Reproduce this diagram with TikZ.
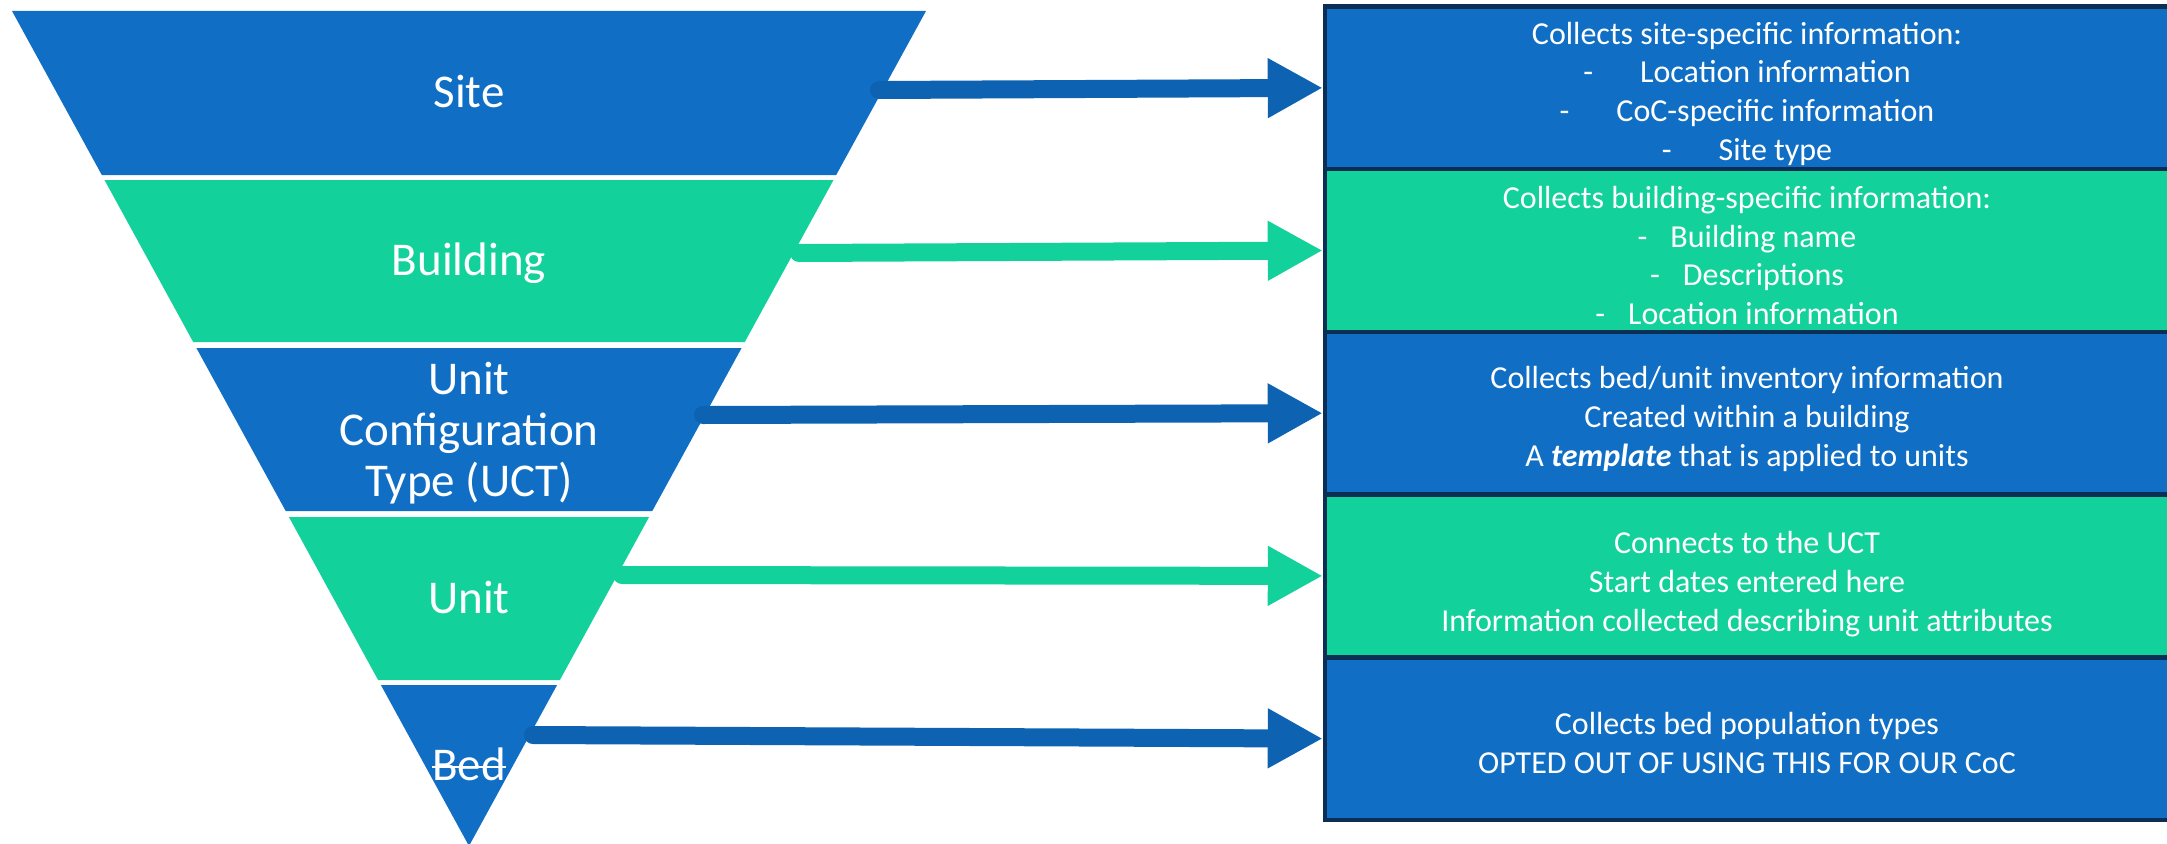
\documentclass[tikz,border=0pt]{standalone}
\usepackage{fontspec}
\setmainfont{Carlito}
\usetikzlibrary{arrows.meta}
\definecolor{fblue}{RGB}{16,111,197}
\definecolor{fgreen}{RGB}{19,209,155}
\definecolor{ablue}{RGB}{14,98,178}
\definecolor{navy}{RGB}{11,46,84}
\tikzset{
  bandlabel/.style={text=white, font=\fontsize{47}{51}\selectfont, align=center, inner sep=0pt},
  rowbox/.style={draw=navy, line width=4.5pt, minimum width=844pt, minimum height=162.7pt, inner sep=0pt},
  boxtext/.style={text=white, align=center, inner sep=0pt, font=\fontsize{32}{38.8}\selectfont},
  conn/.style={line width=18pt, line cap=round, -{Triangle[length=55pt,width=56pt]}},
}
\begin{document}
\begin{tikzpicture}[x=1pt,y=-1pt]
\useasboundingbox (0,0) rectangle (2167,843);
% funnel bands
\fill[fblue]  (12,11) -- (926,11) -- (836.2,175) -- (101.8,175) -- cycle;
\fill[fgreen] (104.5,180) -- (833.5,180) -- (744.8,342) -- (193.2,342) -- cycle;
\fill[fblue]  (196.4,348) -- (741.6,348) -- (652.3,511) -- (285.7,511) -- cycle;
\fill[fgreen] (288.9,517) -- (649.1,517) -- (559.9,680) -- (378.1,680) -- cycle;
\fill[fblue]  (380.9,685) -- (557.1,685) -- (469,846) -- cycle;
% funnel labels
\node[bandlabel, anchor=base] (lsite) at (469,107) {Site};
\node[bandlabel, anchor=base] (lbuild) at (469,275) {Building};
\node[bandlabel] (luct) at (469,433) {Unit\\Configuration\\Type (UCT)};
\node[bandlabel, anchor=base] (lunit) at (469,613) {Unit};
\node[bandlabel, anchor=base] (lbed) at (469,780) {Bed};
\draw[white, line width=2.2pt] ([yshift=13pt]lbed.base west) -- ([yshift=13pt]lbed.base east);
% right boxes
\node[rowbox, fill=fblue]  (r1) at (1747,87.85) {};
\node[rowbox, fill=fgreen] (r2) at (1747,250.5) {};
\node[rowbox, fill=fblue]  (r3) at (1747,413.2) {};
\node[rowbox, fill=fgreen] (r4) at (1747,575.9) {};
\node[rowbox, fill=fblue]  (r5) at (1747,738.6) {};
\node[boxtext] (t1) at ([yshift=-6pt]r1.center) {Collects site-specific information:\\
  -\hspace{47pt}Location information\\
  -\hspace{47pt}CoC-specific information\\
  -\hspace{47pt}Site type};
\node[boxtext] (t2) at ([yshift=-5pt]r2.center) {Collects building-specific information:\\
  -\hspace{23pt}Building name\\
  -\hspace{23pt}Descriptions\\
  -\hspace{23pt}Location information};
\node[boxtext] (t3) at ([yshift=-6pt]r3.center) {Collects bed/unit inventory information\\
  Created within a building\\
  A \textbf{\textit{template}} that is applied to units};
\node[boxtext] (t4) at ([yshift=-8pt]r4.center) {Connects to the UCT\\
  Start dates entered here\\
  Information collected describing unit attributes};
\node[boxtext] (t5) at ([yshift=-4pt]r5.center) {Collects bed population types\\
  OPTED OUT OF USING THIS FOR OUR CoC};
% arrow starts
\coordinate (s1) at (879,90);
\coordinate (s2) at (799,253);
\coordinate (s3) at (703,415);
\coordinate (s4) at (622,575);
\coordinate (s5) at (533,735);
\draw[conn, ablue]  (s1) -- (r1.west);
\draw[conn, fgreen] (s2) -- (r2.west);
\draw[conn, ablue]  (s3) -- (r3.west);
\draw[conn, fgreen] (s4) -- (r4.west);
\draw[conn, ablue]  (s5) -- (r5.west);
\end{tikzpicture}
\end{document}
